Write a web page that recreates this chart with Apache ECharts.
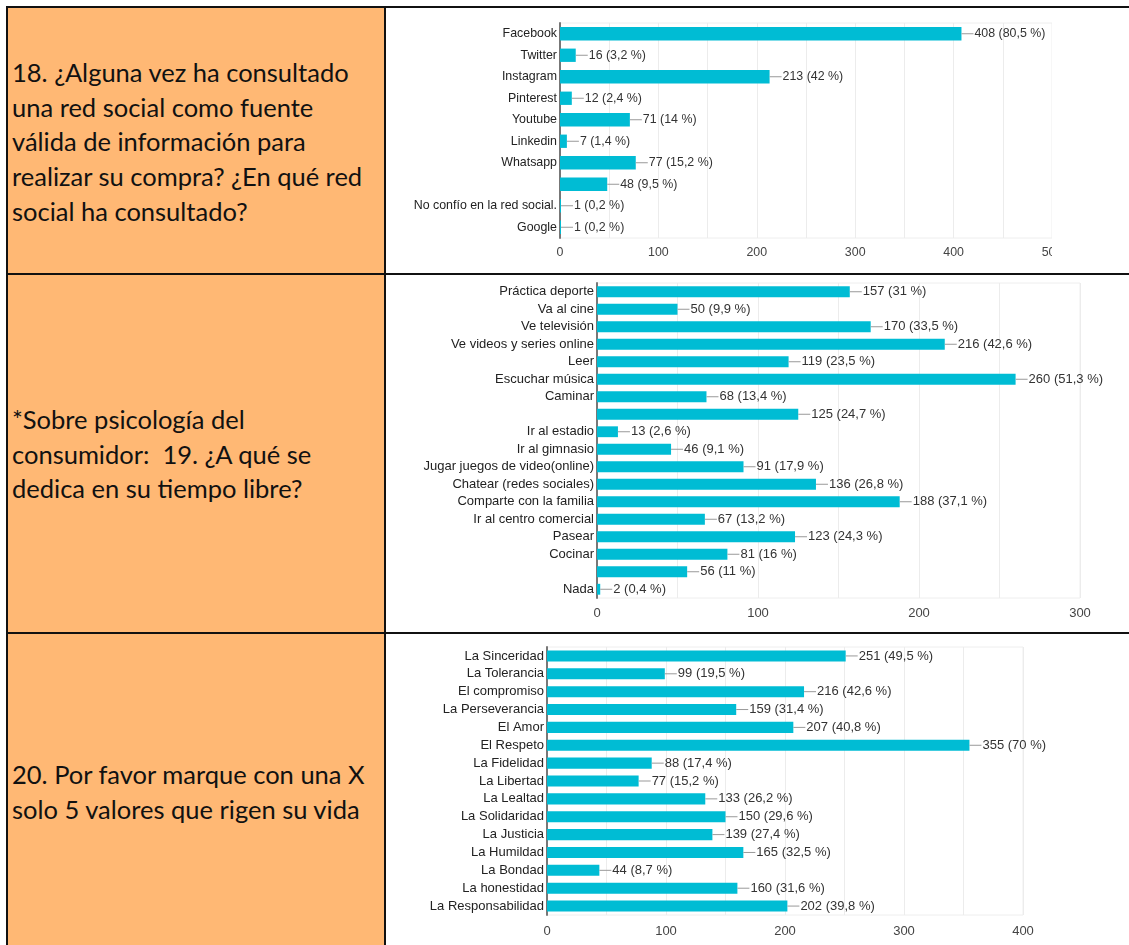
<!DOCTYPE html>
<html>
<head>
<meta charset="utf-8">
<script src="https://cdn.jsdelivr.net/npm/echarts@6/dist/echarts.min.js"></script>
<style>
  html, body { margin: 0; padding: 0; background: #fff; width: 1129px; height: 945px; overflow: hidden; position: relative; }
  .ln { position: absolute; background: #111; }
  .fill { position: absolute; background: #FFB874; }
  .txt { position: absolute; left: 12px; font-family: Lato, "Open Sans", sans-serif; font-size: 25.5px; line-height: 34.7px; color: #111; white-space: nowrap; }
  .chart { position: absolute; }
</style>
</head>
<body>
<div class="fill" style="left:8px;top:8px;width:376px;height:265px"></div>
<div class="fill" style="left:8px;top:275px;width:376px;height:357px"></div>
<div class="fill" style="left:8px;top:634px;width:376px;height:311px"></div>
<div class="ln" style="left:6px;top:6px;width:1123px;height:2px"></div>
<div class="ln" style="left:6px;top:273px;width:1123px;height:2px"></div>
<div class="ln" style="left:6px;top:632px;width:1123px;height:2px"></div>
<div class="ln" style="left:6px;top:6px;width:2px;height:939px"></div>
<div class="ln" style="left:384px;top:6px;width:2px;height:939px"></div>

<div class="txt" style="top:55px">18. ¿Alguna vez ha consultado<br>una red social como fuente<br>válida de información para<br>realizar su compra? ¿En qué red<br>social ha consultado?</div>
<div class="txt" style="top:402px">*Sobre psicología del<br>consumidor:&nbsp; 19. ¿A qué se<br>dedica en su tiempo libre?</div>
<div class="txt" style="top:757px">20. Por favor marque con una X<br>solo 5 valores que rigen su vida</div>

<div id="c1" class="chart" style="left:387px;top:8px;width:665px;height:264px"></div>
<div id="c2" class="chart" style="left:387px;top:275px;width:742px;height:356px"></div>
<div id="c3" class="chart" style="left:387px;top:635px;width:742px;height:310px"></div>

<script>
// ---- Chart 1: redes sociales ----
var cats1 = ['Facebook', 'Twitter', 'Instagram', 'Pinterest', 'Youtube', 'Linkedin', 'Whatsapp', '', 'No confío en la red social.', 'Google'];
var vals1 = [408, 16, 213, 12, 71, 7, 77, 48, 1, 1];
var pcts1 = ['80,5', '3,2', '42', '2,4', '14', '1,4', '15,2', '9,5', '0,2', '0,2'];
var ticks1 = { max: 500 };

// ---- Chart 2: tiempo libre ----
var cats2 = ['Práctica deporte', 'Va al cine', 'Ve televisión', 'Ve videos y series online', 'Leer', 'Escuchar música', 'Caminar', '', 'Ir al estadio', 'Ir al gimnasio', 'Jugar juegos de video(online)', 'Chatear (redes sociales)', 'Comparte con la familia', 'Ir al centro comercial', 'Pasear', 'Cocinar', ' ', 'Nada'];
var vals2 = [157, 50, 170, 216, 119, 260, 68, 125, 13, 46, 91, 136, 188, 67, 123, 81, 56, 2];
var pcts2 = ['31', '9,9', '33,5', '42,6', '23,5', '51,3', '13,4', '24,7', '2,6', '9,1', '17,9', '26,8', '37,1', '13,2', '24,3', '16', '11', '0,4'];
var ticks2 = { max: 300 };

// ---- Chart 3: valores ----
var cats3 = ['La Sinceridad', 'La Tolerancia', 'El compromiso', 'La Perseverancia', 'El Amor', 'El Respeto', 'La Fidelidad', 'La Libertad', 'La Lealtad', 'La Solidaridad', 'La Justicia', 'La Humildad', 'La Bondad', 'La honestidad', 'La Responsabilidad'];
var vals3 = [251, 99, 216, 159, 207, 355, 88, 77, 133, 150, 139, 165, 44, 160, 202];
var pcts3 = ['49,5', '19,5', '42,6', '31,4', '40,8', '70', '17,4', '15,2', '26,2', '29,6', '27,4', '32,5', '8,7', '31,6', '39,8'];
var ticks3 = { max: 400 };

function makeOption(cats, vals, pcts, ticks, grid, fs, tickMargin) {
  return {
    animation: false,
    grid: Object.assign({ show: true, borderColor: '#eeeeee', borderWidth: 1, backgroundColor: 'transparent', containLabel: false, outerBoundsMode: 'none' }, grid),
    xAxis: {
      type: 'value', min: 0, max: ticks.max, interval: 50,
      axisLine: { show: false }, axisTick: { show: false },
      splitLine: { show: true, lineStyle: { color: '#ececec', width: 1 } },
      axisLabel: {
        color: '#444', fontFamily: 'Liberation Sans, Arial, sans-serif', fontSize: fs, margin: tickMargin,
        hideOverlap: false, showMaxLabel: true,
        formatter: function (v) { return v % 100 === 0 ? String(v) : ''; }
      }
    },
    yAxis: {
      type: 'category', data: cats, inverse: true,
      axisLine: { show: true, lineStyle: { color: '#777', width: 2 } },
      axisTick: { show: false },
      axisLabel: { color: '#222', fontFamily: 'Liberation Sans, Arial, sans-serif', fontSize: fs, margin: 3, interval: 0 },
      splitLine: { show: false }
    },
    series: [{
      type: 'bar', data: vals, barWidth: '62%',
      itemStyle: { color: '#00bcd4' },
      label: {
        show: true, position: 'right', distance: 0,
        formatter: function (p) { return '{l|}{v|' + p.value + ' (' + pcts[p.dataIndex] + ' %)}'; },
        rich: {
          l: { width: 12, height: 1, backgroundColor: '#999' },
          v: { color: '#333', fontFamily: 'Liberation Sans, Arial, sans-serif', fontSize: fs, padding: [0, 0, 0, 1] }
        }
      }
    }]
  };
}

var c1 = echarts.init(document.getElementById('c1'));
c1.setOption(makeOption(cats1, vals1, pcts1, ticks1, { left: 173, top: 15, width: 492, height: 215 }, 12.4, 9));
var c2 = echarts.init(document.getElementById('c2'));
c2.setOption(makeOption(cats2, vals2, pcts2, ticks2, { left: 210, top: 8, width: 483, height: 315 }, 13, 9));
var c3 = echarts.init(document.getElementById('c3'));
c3.setOption(makeOption(cats3, vals3, pcts3, ticks3, { left: 160, top: 12, width: 476, height: 268 }, 13, 10));
</script>
</body>
</html>
